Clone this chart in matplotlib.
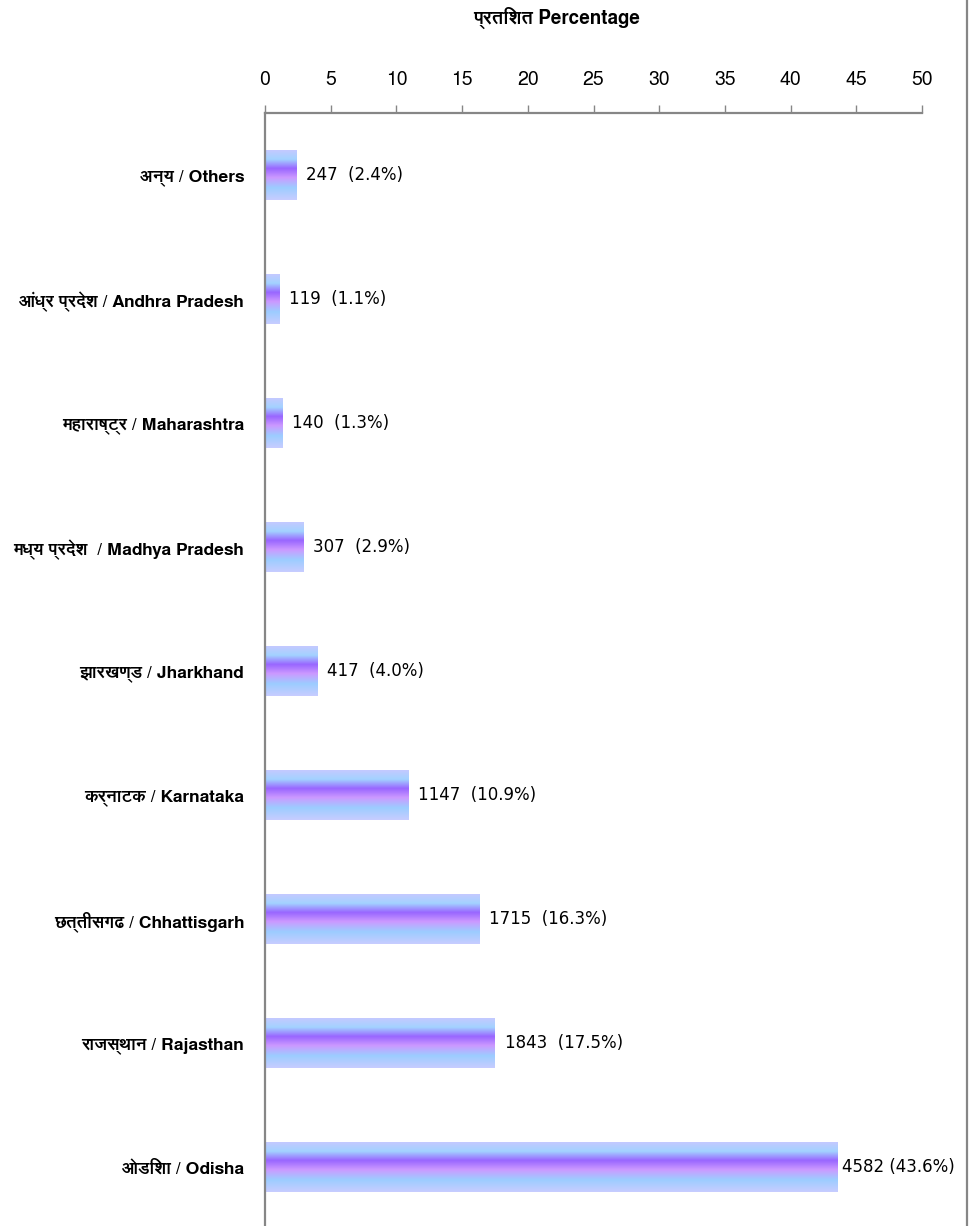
import matplotlib
matplotlib.use('Agg')
import matplotlib.pyplot as plt
import numpy as np
from matplotlib import font_manager
from matplotlib.ft2font import FT2Font
from matplotlib.colors import LinearSegmentedColormap

# data
states = ['अन्य / Others', 'आंध्र प्रदेश / Andhra Pradesh', 'महाराष्ट्र / Maharashtra',
          'मध्य प्रदेश  / Madhya Pradesh', 'झारखण्ड / Jharkhand', 'कर्नाटक / Karnataka',
          'छत्तीसगढ / Chhattisgarh', 'राजस्थान / Rajasthan', 'ओडिशा / Odisha']
counts = [247, 119, 140, 307, 417, 1147, 1715, 1843, 4582]
pcts = [2.4, 1.1, 1.3, 2.9, 4.0, 10.9, 16.3, 17.5, 43.6]
xticks = [0, 5, 10, 15, 20, 25, 30, 35, 40, 45, 50]


def find_deva():
    # look for any installed font that has devanagari glyphs
    found = []
    for f in font_manager.fontManager.ttflist:
        try:
            cm = FT2Font(f.fname).get_charmap()
        except Exception:
            continue
        if 0x0915 in cm:
            found.append(f)
    if not found:
        return None
    bold = [f for f in found if str(f.weight) in ('bold', '700', '600', 'semibold')]
    return (bold or found)[0].name


deva = find_deva()
fams = ['Liberation Sans Narrow', 'Liberation Sans', 'DejaVu Sans']
if deva:
    fams = ['Liberation Sans Narrow', deva, 'DejaVu Sans']

gray = '#868686'
grad = LinearSegmentedColormap.from_list('g', [
    (0.0, '#c8c8ff'), (0.2, '#a3d2ff'), (0.38, '#9966ff'),
    (0.56, '#cc99ff'), (0.76, '#9ccdff'), (1.0, '#c8ccff')])

fig = plt.figure(figsize=(9.7, 12.26), dpi=100)
ax = fig.add_axes([265/970, -3/1226, 657/970, 1116/1226])

y = np.arange(len(states))
h = 0.405
bars = ax.barh(y, pcts, height=h, color='none', edgecolor='none')
g = np.linspace(0, 1, 256).reshape(-1, 1)
for i, b in enumerate(bars):
    im = ax.imshow(g, cmap=grad, aspect='auto', origin='upper',
                   extent=[0, pcts[i], y[i] + h/2, y[i] - h/2], zorder=2)
    im.set_clip_path(b)
    ax.annotate('%d%s(%.1f%%)' % (counts[i], ' ' if counts[i] > 4000 else '  ', pcts[i]),
                (pcts[i], y[i]), xytext=(3 if counts[i] > 4000 else 7, 0),
                textcoords='offset points',
                va='center', ha='left', fontsize=12, family='DejaVu Sans')

ax.set_xlim(0, 50)
ax.set_ylim(len(states) - 0.5, -0.5)
ax.xaxis.tick_top()
ax.set_xticks(xticks)
ax.set_xticklabels([str(t) for t in xticks], family=fams, fontsize=14)
ax.tick_params(axis='x', direction='out', length=6, width=1, color=gray, pad=11)
ax.set_yticks(y)
ax.set_yticklabels(states, family=fams, fontsize=12.5, fontweight='bold')
ax.tick_params(axis='y', length=0, pad=15)
for s in ['right', 'bottom']:
    ax.spines[s].set_visible(False)
for s in ['top', 'left']:
    ax.spines[s].set_color(gray)
    ax.spines[s].set_linewidth(1.6)

fig.text(557/970, 1 - 18/1226, 'प्रतिशत Percentage', ha='center', va='center',
         family=fams, fontsize=13.5, fontweight='bold')
fig.add_artist(plt.Line2D([967/970, 967/970], [0, 1], color=gray, lw=1.6))

fig.savefig('out.png', dpi=100)
